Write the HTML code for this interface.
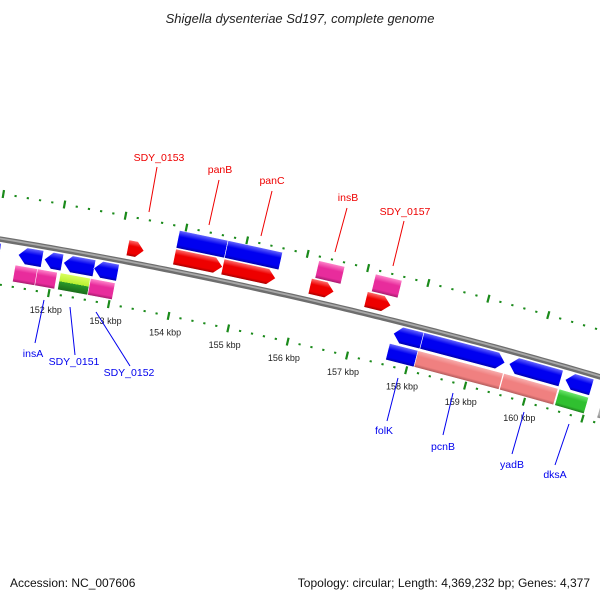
<!DOCTYPE html>
<html><head><meta charset="utf-8"><style>
html,body{margin:0;padding:0;background:#fff}
svg{display:block}
text{font-family:"Liberation Sans","DejaVu Sans",sans-serif}
</style></head><body>
<svg id="chart" width="600" height="600" viewBox="0 0 600 600">
<defs id="defs"></defs>
<text x="300" y="23" text-anchor="middle" font-size="13" font-style="italic" fill="#222">Shigella dysenteriae Sd197, complete genome</text>
<g id="rings"></g>
<g id="backbone"></g>
<g id="features"></g>
<g id="ticklabels"></g>
<g id="labels"></g>
<text x="10" y="587" font-size="12" fill="#111">Accession: NC_007606</text>
<text x="590" y="587" text-anchor="end" font-size="12" fill="#111">Topology: circular; Length: 4,369,232 bp; Genes: 4,377</text>
</svg>
<script>
// ---- data (kbp) ----
const tickKbp = [147,148,149,150,151,152,153,154,155,156,157,158,159,160,161,162,163,164];
const kbpLabels = ["152 kbp","153 kbp","154 kbp","155 kbp","156 kbp","157 kbp","158 kbp","159 kbp","160 kbp"];
const kbpLabelPos = [152,153,154,155,156,157,158,159,160];
// forward strand features
const fwdStart = [153.13,153.9,154.7,156.15,157.08,153.9,154.7,156.2,157.14];
const fwdEnd   = [153.40,154.7,155.58,156.55,157.50,154.7,155.6,156.63,157.58];
const fwdRow   = [0,0,0,0,0,1,1,1,1];
const fwdColor = ["red","red","red","red","red","blue","blue","pink","pink"];
const fwdShape = ["right","right","right","right","right","rect","rect","rect","rect"];
// reverse strand features
const revStart = [150.7,151.4,151.83,152.15,152.65,157.65,158.13,159.6,160.55, 151.38,151.75,152.13,152.63,157.63,158.11,159.56,160.5,161.22];
const revEnd   = [151.1,151.8,152.13,152.66,153.05,158.13,159.53,160.48,161.0, 151.76,152.08,152.63,153.04,158.11,159.55,160.48,161.0,161.5];
const revRow   = [0,0,0,0,0,0,0,0,0, 1,1,1,1,1,1,1,1,1];
const revColor = ["blue","blue","blue","blue","blue","blue","blue","blue","blue","pink","pink","lime","pink","blue","salmon","salmon","green","gray"];
const revShape = ["left","left","left","left","left","left","right","left","left","rect","rect","rect","rect","rect","rect","rect","rect","rect"];
// labels
const labNames = ["SDY_0153","panB","panC","insB","SDY_0157","insA","SDY_0151","SDY_0152","folK","pcnB","yadB","dksA"];
const labColor = ["#e00","#e00","#e00","#e00","#e00","#00e","#00e","#00e","#00e","#00e","#00e","#00e"];
const labText = [[159,161],[220,173],[272,184],[348,201],[405,215],[33,357],[74,365],[129,376],[384,434],[443,450],[512,468],[555,478]];
const labLine = [[157,167,149,212],[219,180,209,225],[272,191,261,236],[347,208,335,252],[404,221,393,266],[44,300,35,343],[70,307,75,355],[96,312,130,366],[398,378,387,421],[453,393,443,435],[524,412,512,454],[569,424,555,465]];

// ---- geometry ----
const CX=-816.5, CY=5172, R0=5000, PHI0=0.2251, K0=156.03, A=0.0123;
function pos(k,r){const p=PHI0+(k-K0)*A;const R=R0+r;return [CX+R*Math.sin(p), CY-R*Math.cos(p)];}
const NS="http://www.w3.org/2000/svg";
function el(t,at,parent){const e=document.createElementNS(NS,t);for(const k in at)e.setAttribute(k,at[k]);parent.appendChild(e);return e;}
function arcPath(k1,k2,r){let d="";for(let k=k1;k<=k2+1e-9;k+=0.1){const p=pos(k,r);d+=(d?"L":"M")+p[0].toFixed(2)+","+p[1].toFixed(2);}return d;}

const defs=document.getElementById('defs');
const bb=document.getElementById('backbone');
const b1=el('path',{d:arcPath(145,165,0),stroke:'#6e6e6e',"stroke-width":5.5,fill:'none'},bb);


const b2=el('path',{d:arcPath(145,165,0.6),stroke:'#a8a8a8',"stroke-width":1.8,fill:'none'},bb);



const rings=document.getElementById('rings');
[45,-45].forEach(rr=>{
  tickKbp.forEach(k=>{
    for(let i=0;i<5;i++){
      const kk=k+i*0.2;
      let a,b;
      if(i===0){a=pos(kk,rr-4);b=pos(kk,rr+4);}
      else{a=pos(kk,rr-1);b=pos(kk,rr+1);}
      const t=el('line',{x1:a[0],y1:a[1],x2:b[0],y2:b[1],stroke:'#1a8a1a',"stroke-width":2.2},rings);
      
      
    }
  });
});

const tl=document.getElementById('ticklabels');
kbpLabelPos.forEach((k,i)=>{
  const p=pos(k,-62);
  const t=el('text',{x:p[0],y:p[1]+3,"text-anchor":"middle","font-size":9,fill:'#222'},tl);
  t.textContent=kbpLabels[i];
  
  
});

const COLORS={
  red:["#ff7070","#ee0000","#a00000"],
  blue:["#6a6aff","#0000f0","#0000a8"],
  pink:["#ff88cc","#e82c9c","#a01a6a"],
  salmon:["#f8b0b0","#f08080","#b05a5a"],
  green:["#70e870","#30c030","#1c7c1c"],
  gray:["#d0d0d0","#b0b0b0","#808080"],
  lime:null
};
let gid=0;
function gradFor(color,k,rTop,rBot){
  const g=el('linearGradient',{id:'g'+(++gid),gradientUnits:'userSpaceOnUse'},defs);
  const a=pos(k,rTop), b=pos(k,rBot);
  g.setAttribute('x1',a[0]);g.setAttribute('y1',a[1]);g.setAttribute('x2',b[0]);g.setAttribute('y2',b[1]);
  if(color==='lime'){
    [[0,'#dcff60'],[0.5,'#b8f030'],[0.5,'#2a9a2a'],[1,'#1a6a1a']].forEach(s=>el('stop',{offset:s[0],"stop-color":s[1]},g));
  } else {
    const c=COLORS[color];
    [[0,c[0]],[0.35,c[1]],[0.8,c[1]],[1,c[2]]].forEach(s=>el('stop',{offset:s[0],"stop-color":s[1]},g));
  }
  return 'url(#g'+gid+')';
}
const fg=document.getElementById('features');
function drawFeature(k1,k2,rTop,rBot,color,shape,name){
  const rm=(rTop+rBot)/2, h=Math.min(0.13,(k2-k1)*0.45);
  let pts;
  if(shape==='right') pts=[pos(k1,rTop),pos(k2-h,rTop),pos(k2,rm),pos(k2-h,rBot),pos(k1,rBot)];
  else if(shape==='left') pts=[pos(k1,rm),pos(k1+h,rTop),pos(k2,rTop),pos(k2,rBot),pos(k1+h,rBot)];
  else pts=[pos(k1,rTop),pos(k2,rTop),pos(k2,rBot),pos(k1,rBot)];
  const p=el('polygon',{points:pts.map(q=>q[0].toFixed(2)+","+q[1].toFixed(2)).join(" "),fill:gradFor(color,(k1+k2)/2,rTop,rBot),stroke:'#fff',"stroke-width":0.6},fg);
  
  
}
const FWD_ROWS=[[22,6],[41,23]];
const REV_ROWS=[[-4,-21],[-23,-40]];
fwdStart.forEach((s,i)=>{const r=FWD_ROWS[fwdRow[i]];drawFeature(s,fwdEnd[i],r[0],r[1],fwdColor[i],fwdShape[i],'forward-feature');});
revStart.forEach((s,i)=>{const r=REV_ROWS[revRow[i]];drawFeature(s,revEnd[i],r[0],r[1],revColor[i],revShape[i],'reverse-feature');});

const lg=document.getElementById('labels');
labNames.forEach((n,i)=>{
  const L=labLine[i];
  const ln=el('line',{x1:L[0],y1:L[1],x2:L[2],y2:L[3],stroke:labColor[i],"stroke-width":1},lg);
  
  
  const t=el('text',{x:labText[i][0],y:labText[i][1],"text-anchor":"middle","font-size":10.5,fill:labColor[i]},lg);
  t.textContent=n;
  
  
});
</script>
</body></html>
